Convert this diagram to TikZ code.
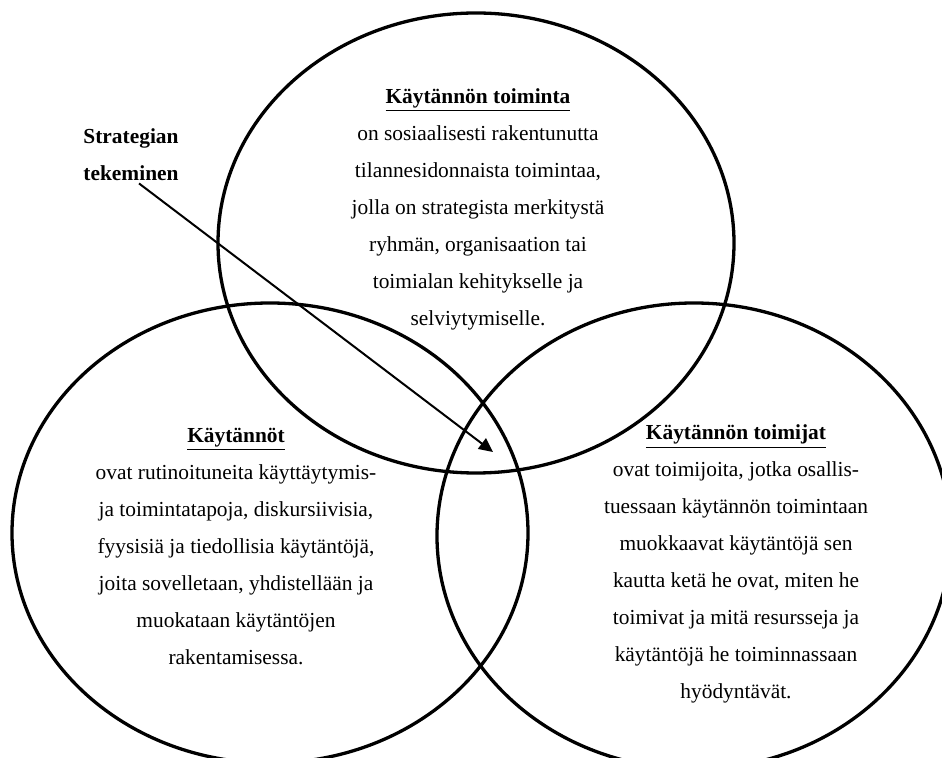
\documentclass[tikz,border=0pt]{standalone}
\usepackage{fontspec}
\setmainfont{Liberation Serif}
\usetikzlibrary{arrows.meta}
\begin{document}
\begin{tikzpicture}[x=0.5pt,y=-0.5pt,
    ring/.style={line width=1.65pt},
    txt/.style={align=center,font=\fontsize{10.7}{18.5}\selectfont,inner sep=1pt},
    pointer/.style={line width=1pt,-{Triangle[length=7pt,width=6.5pt]}}]
     \clip (0,0) rectangle (942,758);
     % the three areas
     \draw[ring] (476,243) ellipse [x radius=258,y radius=230];
     \draw[ring] (270,533) ellipse [x radius=258,y radius=230];
     \draw[ring] (694,536) ellipse [x radius=257,y radius=233];

     \coordinate (tip) at (493,452);

     \node[txt] (toiminta) at (478,209) {\textbf{\underline{Käytännön toiminta}}\\
       on sosiaalisesti rakentunutta\\
       tilannesidonnaista toimintaa,\\
       jolla on strategista merkitystä\\
       ryhmän, organisaation tai\\
       toimialan kehitykselle ja\\
       selviytymiselle.};
     \node[txt] (kaytannot) at (236,546) {\textbf{\underline{Käytännöt}}\\
       ovat rutinoituneita käyttäytymis-\\
       ja toimintatapoja, diskursiivisia,\\
       fyysisiä ja tiedollisia käytäntöjä,\\
       joita sovelletaan, yhdistellään ja\\
       muokataan käytäntöjen\\
       rakentamisessa.};
     \node[txt] (toimijat) at (736,564) {\textbf{\underline{Käytännön toimijat}}\\
       ovat toimijoita, jotka osallis-\\
       tuessaan käytännön toimintaan\\
       muokkaavat käytäntöjä sen\\
       kautta ketä he ovat, miten he\\
       toimivat ja mitä resursseja ja\\
       käytäntöjä he toiminnassaan\\
       hyödyntävät.};
     \node[txt,font=\bfseries\fontsize{10.7}{18.5}\selectfont] (strat) at (131,155) {Strategian\\ tekeminen};

     \draw[pointer] ([xshift=4pt]strat.south) -- (tip);
\end{tikzpicture}
\end{document}
